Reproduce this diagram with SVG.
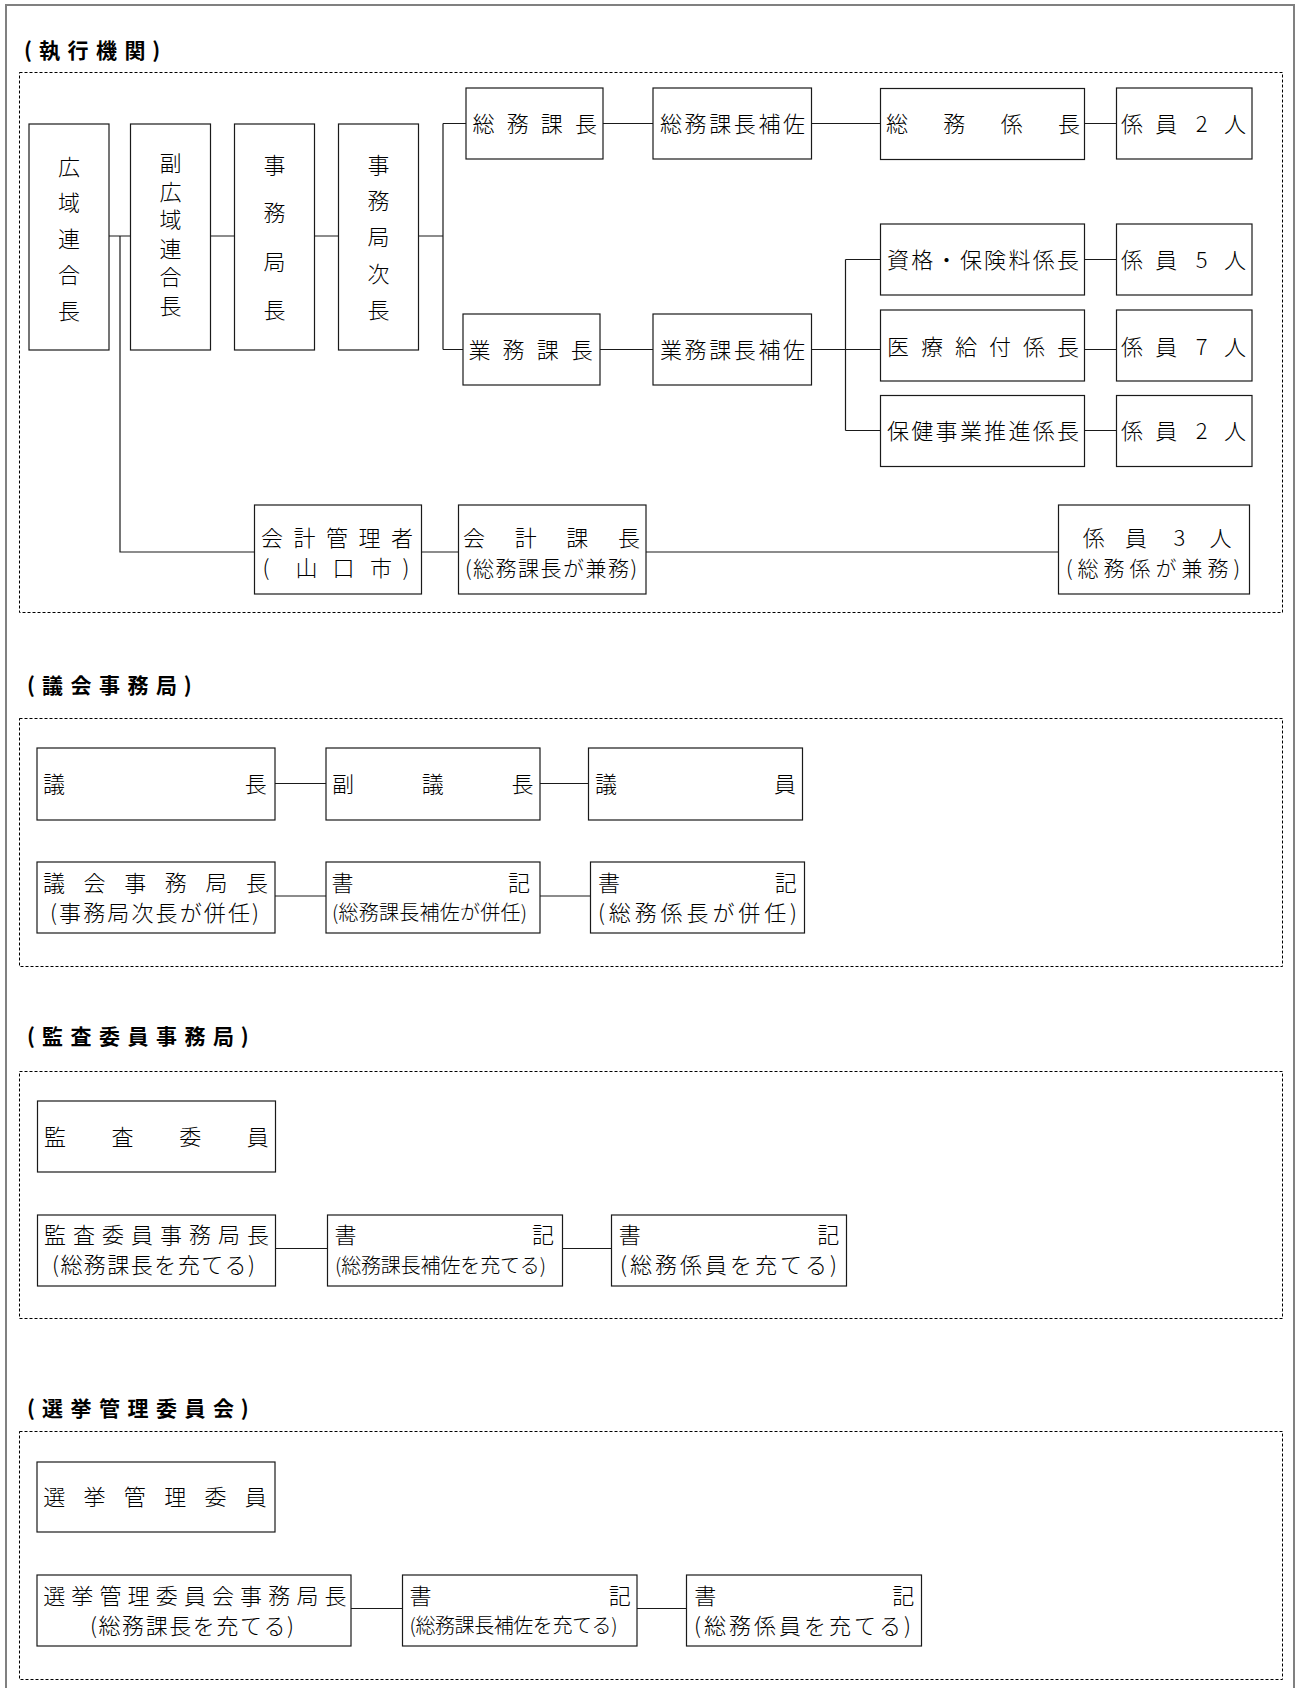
<svg xmlns="http://www.w3.org/2000/svg" width="1296" height="1688" viewBox="0 0 1296 1688">
<style>
.bg{fill:#fff}
.frame{fill:none;stroke:#808080;stroke-width:2}
.sec{fill:none;stroke:#000;stroke-width:1;stroke-dasharray:3 2}
.box{fill:#fff;stroke:#1a1a1a;stroke-width:1.2}
.ln{fill:none;stroke:#1a1a1a;stroke-width:1.2}
.t{font-family:"Noto Sans CJK JP","Noto Sans CJK SC",sans-serif;font-size:22px;font-weight:300;fill:#000}
.m{text-anchor:middle}
.s{font-size:20px}
.s21{font-size:21px}
.h{font-family:"Noto Sans CJK JP","Noto Sans CJK SC",sans-serif;font-size:21px;font-weight:bold;fill:#000;text-anchor:middle}
</style>
<rect class="bg" x="0" y="0" width="1296" height="1688"/>
<path class="frame" d="M6,1688 V5 H1294 V1688"/>

<!-- section frames and titles -->
<g id="sections">
<text class="h" x="28 49.4 77.9 106.4 134.9 156.3" y="58">(執行機関)</text>
<rect class="sec" x="19.5" y="72.5" width="1263" height="540"/>
<text class="h" x="31 52.4 80.9 109.4 137.9 166.4 187.8" y="692.5">(議会事務局)</text>
<rect class="sec" x="19.5" y="718.5" width="1263" height="248"/>
<text class="h" x="31 52.4 80.9 109.4 137.9 166.4 194.9 223.4 244.8" y="1043.5">(監査委員事務局)</text>
<rect class="sec" x="19.5" y="1071.5" width="1263" height="247"/>
<text class="h" x="31 52.4 80.9 109.4 137.9 166.4 194.9 223.4 244.8" y="1416">(選挙管理委員会)</text>
<rect class="sec" x="19.5" y="1431.5" width="1263" height="248"/>
</g>

<g id="connectors">
<path class="ln" d="M109,236 H130.5 M120,236 V552 H254.5 M210.5,236 H234.5 M314.5,236 H338.5 M418.5,236 H443 M443,123.5 V349.5 M443,123.5 H466 M443,349.5 H463"/>
<path class="ln" d="M603,123.5 H653 M811.5,123.5 H880.5 M1084.5,123.5 H1116.5"/>
<path class="ln" d="M600,349.5 H653 M811.5,349.5 H845.5 M845.5,259.5 V430.5 M845.5,259.5 H880.5 M845.5,349.5 H880.5 M845.5,430.5 H880.5"/>
<path class="ln" d="M1084.5,259.5 H1116.5 M1084.5,349.5 H1116.5 M1084.5,430.5 H1116.5"/>
<path class="ln" d="M421.5,552 H458.5 M646,552 H1058.5"/>
<path class="ln" d="M275,783.5 H326 M540,783.5 H588.5 M275,896 H326 M540,896 H590.5"/>
<path class="ln" d="M275.5,1248.5 H327.5 M562.5,1248.5 H611.5"/>
<path class="ln" d="M351,1608.5 H402.5 M637,1608.5 H686.5"/>
</g>

<!-- 執行機関 -->
<g id="n-kouiki-rengouchou"><rect class="box" x="29" y="124" width="80" height="226"/>
<text class="t m" x="69 69 69 69 69" y="175 211 247 283 319">広域連合長</text></g>
<g id="n-fuku-kouiki-rengouchou"><rect class="box" x="130.5" y="124" width="80" height="226"/>
<text class="t m" x="170.5 170.5 170.5 170.5 170.5 170.5" y="171 199.5 228 256.5 285 313.5">副広域連合長</text></g>
<g id="n-jimukyokuchou"><rect class="box" x="234.5" y="124" width="80" height="226"/>
<text class="t m" x="274.5 274.5 274.5 274.5" y="173 221 270 318">事務局長</text></g>
<g id="n-jimukyoku-jichou"><rect class="box" x="338.5" y="124" width="80" height="226"/>
<text class="t m" x="378.5 378.5 378.5 378.5 378.5" y="173 209 245 282 318">事務局次長</text></g>

<g id="n-soumu-kachou"><rect class="box" x="466" y="88" width="137" height="71"/>
<text class="t m" x="483.5 517.7 551.8 586" y="131.5">総務課長</text></g>
<g id="n-soumu-kachou-hosa"><rect class="box" x="653" y="88" width="158.5" height="71"/>
<text class="t m" x="671 695.6 720.2 744.8 769.4 794" y="131.5">総務課長補佐</text></g>
<g id="n-soumu-kakarichou"><rect class="box" x="880.5" y="88.5" width="204" height="71"/>
<text class="t m" x="897 954.3 1011.7 1069" y="131.5">総務係長</text></g>
<g id="n-kakariin-2a"><rect class="box" x="1116.5" y="88" width="135.5" height="71"/>
<text class="t m" x="1132 1166.3 1201.7 1235" y="131.5">係員2人</text></g>

<g id="n-gyoumu-kachou"><rect class="box" x="463" y="314" width="137" height="71"/>
<text class="t m" x="479.5 513.6 547.7 581.8" y="357.5">業務課長</text></g>
<g id="n-gyoumu-kachou-hosa"><rect class="box" x="653" y="314" width="158.5" height="71"/>
<text class="t m" x="671 695.6 720.2 744.8 769.4 794" y="357.5">業務課長補佐</text></g>

<g id="n-shikaku"><rect class="box" x="880.5" y="224" width="204" height="71"/>
<text class="t m" x="898 922.3 946.6 970.9 995.1 1019.4 1043.7 1068" y="267.5">資格・保険料係長</text></g>
<g id="n-kakariin-5"><rect class="box" x="1116.5" y="224" width="135.5" height="71"/>
<text class="t m" x="1132 1166.3 1201.7 1235" y="267.5">係員5人</text></g>
<g id="n-iryou"><rect class="box" x="880.5" y="310" width="204" height="71"/>
<text class="t m" x="898 932 966 1000 1034 1068" y="355">医療給付係長</text></g>
<g id="n-kakariin-7"><rect class="box" x="1116.5" y="310" width="135.5" height="71"/>
<text class="t m" x="1132 1166.3 1201.7 1235" y="355">係員7人</text></g>
<g id="n-hoken"><rect class="box" x="880.5" y="395.5" width="204" height="71"/>
<text class="t m" x="898 922.3 946.6 970.9 995.1 1019.4 1043.7 1068" y="438.5">保健事業推進係長</text></g>
<g id="n-kakariin-2b"><rect class="box" x="1116.5" y="395.5" width="135.5" height="71"/>
<text class="t m" x="1132 1166.3 1201.7 1235" y="438.5">係員2人</text></g>

<g id="n-kaikei-kanrisha"><rect class="box" x="254.5" y="505" width="167" height="89"/>
<text class="t m" x="272 304.5 337 369.5 402" y="546">会計管理者</text>
<text class="t m" x="266 306.5 343.5 381 406" y="576">(山口市)</text></g>
<g id="n-kaikei-kachou"><rect class="box" x="458.5" y="505" width="187.5" height="89"/>
<text class="t m" x="474 525.7 577.3 629" y="546">会計課長</text>
<text class="t s21" x="465" y="576" textLength="172" lengthAdjust="spacing">(総務課長が兼務)</text></g>
<g id="n-kakariin-3"><rect class="box" x="1058.5" y="505" width="191" height="89"/>
<text class="t m" x="1093.7 1136 1179.3 1220.5" y="546">係員3人</text>
<text class="t s21" x="1066" y="576" textLength="174" lengthAdjust="spacing">(総務係が兼務)</text></g>

<!-- 議会事務局 -->
<g id="n-gichou"><rect class="box" x="37" y="748" width="238" height="72"/>
<text class="t m" x="54 255.7" y="791.5">議長</text></g>
<g id="n-fuku-gichou"><rect class="box" x="326" y="748" width="214" height="72"/>
<text class="t m" x="343 432.8 522.5" y="791.5">副議長</text></g>
<g id="n-giin"><rect class="box" x="588.5" y="748" width="214" height="72"/>
<text class="t m" x="606 785" y="791.5">議員</text></g>
<g id="n-gikai-jimukyokuchou"><rect class="box" x="37" y="862" width="238" height="71"/>
<text class="t m" x="54 94.6 135.2 175.8 216.4 257" y="890.5">議会事務局長</text>
<text class="t" x="50" y="920.5" textLength="209" lengthAdjust="spacing">(事務局次長が併任)</text></g>
<g id="n-gikai-shoki-1"><rect class="box" x="326" y="862" width="214" height="71"/>
<text class="t m" x="342.5 519" y="890.5">書記</text>
<text class="t s" x="332" y="920" textLength="195" lengthAdjust="spacing">(総務課長補佐が併任)</text></g>
<g id="n-gikai-shoki-2"><rect class="box" x="590.5" y="862" width="214" height="71"/>
<text class="t m" x="609 785.7" y="890.5">書記</text>
<text class="t" x="598" y="920.5" textLength="199" lengthAdjust="spacing">(総務係長が併任)</text></g>

<!-- 監査委員事務局 -->
<g id="n-kansa-iin"><rect class="box" x="37.5" y="1101" width="238" height="71"/>
<text class="t m" x="55 122.6 190.2 257.8" y="1144.5">監査委員</text></g>
<g id="n-kansa-jimukyokuchou"><rect class="box" x="37.5" y="1215" width="238" height="71"/>
<text class="t m" x="54.9 83.9 112.9 141.9 170.9 199.9 228.9 257.9" y="1243">監査委員事務局長</text>
<text class="t" x="52" y="1273" textLength="203" lengthAdjust="spacing">(総務課長を充てる)</text></g>
<g id="n-kansa-shoki-1"><rect class="box" x="327.5" y="1215" width="235" height="71"/>
<text class="t m" x="345.6 543" y="1243">書記</text>
<text class="t s" x="335" y="1272.6" textLength="211" lengthAdjust="spacing">(総務課長補佐を充てる)</text></g>
<g id="n-kansa-shoki-2"><rect class="box" x="611.5" y="1215" width="235" height="71"/>
<text class="t m" x="629.7 828.2" y="1243">書記</text>
<text class="t" x="620" y="1273" textLength="217" lengthAdjust="spacing">(総務係員を充てる)</text></g>

<!-- 選挙管理委員会 -->
<g id="n-senkyo-iin"><rect class="box" x="37" y="1462" width="238" height="70"/>
<text class="t m" x="54.2 94.5 134.8 175.2 215.5 255.8" y="1505">選挙管理委員</text></g>
<g id="n-senkyo-jimukyokuchou"><rect class="box" x="37" y="1575" width="314" height="71"/>
<text class="t m" x="54.2 82.3 110.5 138.6 166.7 194.9 223 251.1 279.2 307.4 335.5" y="1603.5">選挙管理委員会事務局長</text>
<text class="t" x="90" y="1633.5" textLength="204" lengthAdjust="spacing">(総務課長を充てる)</text></g>
<g id="n-senkyo-shoki-1"><rect class="box" x="402.5" y="1575" width="234.5" height="71"/>
<text class="t m" x="420.5 619.7" y="1603.5">書記</text>
<text class="t s" x="409.5" y="1633" textLength="208" lengthAdjust="spacing">(総務課長補佐を充てる)</text></g>
<g id="n-senkyo-shoki-2"><rect class="box" x="686.5" y="1575" width="235" height="71"/>
<text class="t m" x="705.2 903.2" y="1603.5">書記</text>
<text class="t" x="694" y="1633.5" textLength="217" lengthAdjust="spacing">(総務係員を充てる)</text></g>
</svg>
